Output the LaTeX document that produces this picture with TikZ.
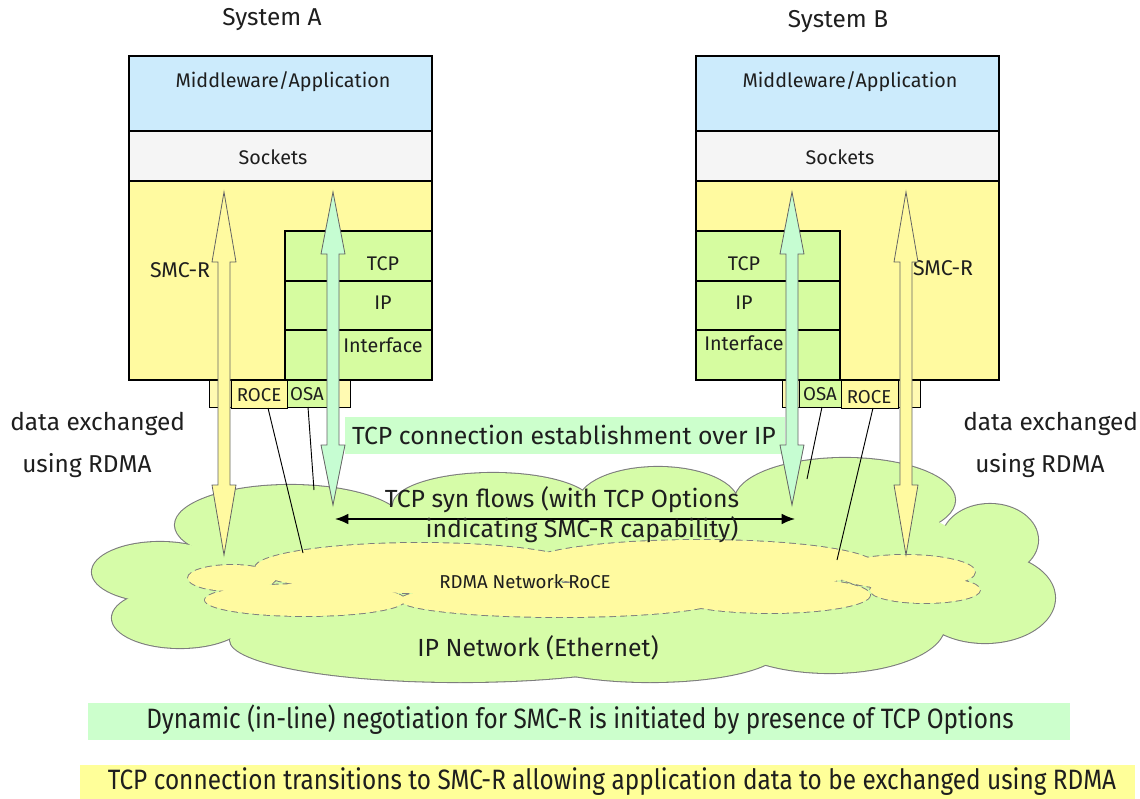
\documentclass[tikz,border=0pt]{standalone}
\usepackage{fontspec}
\setmainfont{Fira Sans}
\newfontfamily\narrowfont[FakeStretch=0.87]{Fira Sans}
\usetikzlibrary{arrows.meta}

\definecolor{appblue}{RGB}{204,235,252}
\definecolor{sockgray}{RGB}{245,245,245}
\definecolor{stackyellow}{RGB}{255,250,160}
\definecolor{stackgreen}{RGB}{214,252,160}
\definecolor{cloudgreen}{RGB}{214,252,168}
\definecolor{cloudyellow}{RGB}{255,250,160}
\definecolor{mint}{RGB}{198,253,210}
\definecolor{bandgreen}{RGB}{204,255,204}
\definecolor{bandyellow}{RGB}{255,255,153}
\definecolor{adapter}{RGB}{255,250,178}
\definecolor{edgegray}{RGB}{125,125,125}
\definecolor{ink}{RGB}{30,30,30}

% fat double-headed arrow: x, top tip y, bottom tip y, top head length, bottom head length, style
\newcommand{\fatarrow}[6]{%
  \draw[#6] (#1,#2) -- ({#1+12},{#2+#4}) -- ({#1+6},{#2+#4}) -- ({#1+6},{#3-#5})
    -- ({#1+12},{#3-#5}) -- (#1,#3) -- ({#1-12},{#3-#5}) -- ({#1-6},{#3-#5})
    -- ({#1-6},{#2+#4}) -- ({#1-12},{#2+#4}) -- cycle;}

\begin{document}
\begin{tikzpicture}[x=0.75pt,y=-0.75pt,
  layer/.style={draw=black,line width=2.2pt},
  thinbox/.style={draw=black,line width=0.7pt},
  lbl/.style={font=\fontsize{14.8}{16}\selectfont,text=ink,inner sep=0pt},
  small/.style={font=\fontsize{14}{15}\selectfont,text=ink,inner sep=0pt},
  big/.style={font=\fontsize{18.6}{20}\selectfont,text=ink,inner sep=0pt},
  side/.style={font=\fontsize{18.3}{20}\selectfont,text=ink,inner sep=0pt,anchor=west},
  title/.style={font=\fontsize{18.3}{20}\selectfont,text=ink,inner sep=0pt},
  caption/.style={font=\narrowfont\fontsize{21}{23}\selectfont,text=ink,inner sep=0pt},
  leader/.style={draw=black,line width=0.7pt},
  smcarrow/.style={draw=edgegray!80!black,line width=0.6pt,fill=stackyellow},
  tcparrow/.style={draw=edgegray!80!black,line width=0.6pt,fill=mint},
  cloudedge/.style={draw=edgegray,line width=1.6pt},
  roceedge/.style={draw=edgegray,line width=1.4pt,dash pattern=on 5pt off 3pt},
]
\useasboundingbox (0,0) rectangle (1140,799);

% ---------- IP network cloud ----------
\def\greenlobes{160/572/68/30, 180/618/68/30, 290/525/115/40, 493/505/100/32,
  658/503/80/36, 845/500/110/42, 990/540/48/36, 985/598/70/45, 830/625/115/48,
  460/640/230/42, 650/650/130/32}
\def\greenfill{560/585/400/75, 560/540/330/40, 880/560/90/50}
\foreach \cx/\cy/\rx/\ry in \greenlobes
  \path[cloudedge] (\cx,\cy) ellipse [x radius=\rx, y radius=\ry];
\foreach \cx/\cy/\rx/\ry in \greenlobes
  \fill[cloudgreen] (\cx,\cy) ellipse [x radius=\rx, y radius=\ry];
\foreach \cx/\cy/\rx/\ry in \greenfill
  \fill[cloudgreen] (\cx,\cy) ellipse [x radius=\rx, y radius=\ry];

% ---------- RoCE network cloud ----------
\def\yellowlobes{232/578/44/13, 305/600/100/16, 420/568/165/25, 560/600/160/17,
  700/565/175/25, 770/595/100/18, 905/572/70/17, 925/590/55/13}
\foreach \cx/\cy/\rx/\ry in \yellowlobes
  \path[roceedge] (\cx,\cy) ellipse [x radius=\rx, y radius=\ry];
\foreach \cx/\cy/\rx/\ry in \yellowlobes
  \fill[cloudyellow] (\cx,\cy) ellipse [x radius=\rx, y radius=\ry];

\node[small] (rdmanet) at (525,582) {RDMA Network RoCE};
\node[big] (ipnet) at (538,648) {IP Network (Ethernet)};

% ---------- captions ----------
\fill[bandgreen] (345,417) rectangle (785,454);
\node[big] (tcpest) at (564,435) {TCP connection establishment over IP};
\fill[bandgreen] (88,703) rectangle (1070,740);
\node[caption] (negot) at (580,720)
  {Dynamic (in-line) negotiation for SMC-R is initiated by presence of TCP Options};
\fill[bandyellow] (80,765) rectangle (1135,799);
\node[caption] (trans) at (612,782)
  {TCP connection transitions to SMC-R allowing application data to be exchanged using RDMA};

\node[side] (dxa) at (10,424) {data exchanged};
\node[side] (ura) at (22,466) {using RDMA};
\node[side] (dxb) at (963,424) {data exchanged};
\node[side] (urb) at (975,466) {using RDMA};

% ---------- System A ----------
\node[title] (sysa) at (272,20) {System A};
\fill[appblue] (129,56) rectangle (432,131);
\fill[sockgray] (129,131) rectangle (432,181);
\fill[stackyellow] (129,181) rectangle (432,380);
\fill[stackgreen] (285,231) rectangle (432,380);
\draw[layer] (129,131) -- (432,131) (129,181) -- (432,181);
\draw[layer] (285,380) -- (285,231) -- (432,231) (285,281) -- (432,281) (285,330) -- (432,330);
\draw[layer] (129,56) rectangle (432,380);
\node[lbl] (mwa) at (283,82) {Middleware/Application};
\node[lbl] (soa) at (273,157) {Sockets};
\node[lbl] (tcpa) at (383,264) {TCP};
\node[lbl] (ipa) at (383,303) {IP};
\node[lbl] (ifa) at (383,345) {Interface};
\node[lbl,font=\fontsize{16}{18}\selectfont] (smca) at (180,270) {SMC-R};

% adapters of System A
\draw[thinbox,fill=adapter] (209,380) rectangle (350,407);
\draw[thinbox,fill=stackgreen] (287,380) rectangle (327,407);
\draw[thinbox,fill=stackyellow] (231,380) rectangle (287,408);
\node[small] (rocea) at (259,395) {ROCE};
\node[small] (osaa) at (307,394) {OSA};

% ---------- System B ----------
\node[title] (sysb) at (838,22) {System B};
\fill[appblue] (696,56) rectangle (999,131);
\fill[sockgray] (696,131) rectangle (999,181);
\fill[stackyellow] (696,181) rectangle (999,380);
\fill[stackgreen] (696,231) rectangle (840,380);
\draw[layer] (696,131) -- (999,131) (696,181) -- (999,181);
\draw[layer] (840,380) -- (840,231) -- (696,231) (696,281) -- (840,281) (696,330) -- (840,330);
\draw[layer] (696,56) rectangle (999,380);
\node[lbl] (mwb) at (850,82) {Middleware/Application};
\node[lbl] (sob) at (840,157) {Sockets};
\node[lbl] (tcpb) at (744,264) {TCP};
\node[lbl] (ipb) at (744,303) {IP};
\node[lbl] (ifb) at (744,343) {Interface};
\node[lbl,font=\fontsize{16}{18}\selectfont] (smcb) at (943,268) {SMC-R};

% adapters of System B
\draw[thinbox,fill=adapter] (782,380) rectangle (920,407);
\draw[thinbox,fill=stackgreen] (799,380) rectangle (841,407);
\draw[thinbox,fill=stackyellow] (841,380) rectangle (898,408);
\node[small] (osab) at (820,394) {OSA};
\node[small] (roceb) at (869,397) {ROCE};

% ---------- leader lines from adapters into the networks ----------
\coordinate (rocea-top) at (268,408);
\coordinate (rocea-end) at (303,553);
\coordinate (osaa-top) at (308,407);
\coordinate (osaa-end) at (314,490);
\coordinate (osab-top) at (822,407);
\coordinate (osab-end) at (807,479);
\coordinate (roceb-top) at (873,408);
\coordinate (roceb-end) at (837,560);
\draw[leader] (rocea-top) -- (rocea-end);
\draw[leader] (osaa-top) -- (osaa-end);
\draw[leader] (osab-top) -- (osab-end);
\draw[leader] (roceb-top) -- (roceb-end);

% ---------- data paths ----------
\fatarrow{224}{192}{555}{70}{70}{smcarrow}
\fatarrow{333}{192}{505}{62}{60}{tcparrow}
\fatarrow{792}{192}{505}{62}{60}{tcparrow}
\fatarrow{906}{192}{555}{70}{70}{smcarrow}

% ---------- TCP syn exchange ----------
\coordinate (syn-a) at (335,519);
\coordinate (syn-b) at (795,519);
\draw[line width=1.1pt,{Latex[length=10pt,width=8pt]}-{Latex[length=10pt,width=8pt]}] (syn-a) -- (syn-b);
\node[big] (syn1) at (562,500) {TCP syn flows (with TCP Options};
\node[big] (syn2) at (582,530) {indicating SMC-R capability)};
\end{tikzpicture}
\end{document}
